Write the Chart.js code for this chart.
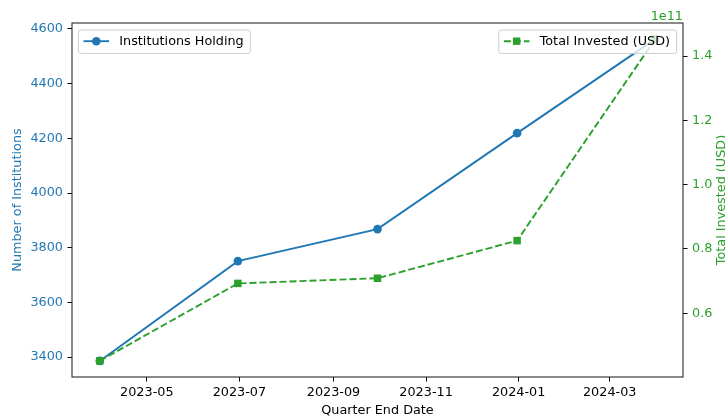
<!DOCTYPE html>
<html>
<head>
<meta charset="utf-8">
<script src="https://cdn.jsdelivr.net/npm/chart.js@4.4.1/dist/chart.umd.min.js"></script>
<style>
  html, body { margin: 0; padding: 0; background: #ffffff; }
  #wrap { width: 725px; height: 418px; }
</style>
</head>
<body>
<div id="wrap"><canvas id="chart" width="725" height="418"></canvas></div>
<script>
// Quarterly 13F snapshot
const quarterEnds = ['2023-03-31', '2023-06-30', '2023-09-30', '2023-12-31', '2024-03-31'];
const institutionsHolding = [3386, 3751, 3868, 4219, 4563];
const totalInvestedUSD = [4.52e10, 6.93e10, 7.09e10, 8.26e10, 1.4526e11];

// Axis ticks
const monthTicks = ['2023-05', '2023-07', '2023-09', '2023-11', '2024-01', '2024-03'];
const institutionTicks = [3400, 3600, 3800, 4000, 4200, 4400, 4600];
const investedTicks = [0.6, 0.8, 1.0, 1.2, 1.4];   // in units of investedScale
const investedScale = 1e11;
const investedScaleLabel = '1e11';

const BLUE = '#1f77b4';
const GREEN = '#2ca02c';
const FONT = 'DejaVu Sans';
const FS = 12.8;

const toMs = s => Date.parse(s + 'T00:00:00Z');
const xs = quarterEnds.map(toMs);

// 5% padding on both sides of the data range
function padRange(vals) {
  const lo = Math.min(...vals), hi = Math.max(...vals);
  const m = (hi - lo) * 0.05;
  return { min: lo - m, max: hi + m };
}
const xRange = padRange(xs);
const leftRange = padRange(institutionsHolding);
const rightRange = padRange(totalInvestedUSD);

function fixWidth(w) { return s => { s.width = w; s.paddingTop = 0; s.paddingBottom = 0; }; }

function drawLegendBox(ctx, left, top, label, color, dashed, style) {
  ctx.save();
  ctx.font = FS + 'px "' + FONT + '"';
  const pad = 5.1, handle = 25.6, gap = 10.2;
  const tw = ctx.measureText(label).width;
  const w = pad + handle + gap + tw + pad + 1.5;
  const h = 23.4;
  if (left === null) left = 676.6 - w;
  ctx.beginPath();
  ctx.roundRect(left, top, w, h, 2.5);
  ctx.fillStyle = 'rgba(255,255,255,0.8)';
  ctx.fill();
  ctx.strokeStyle = '#cccccc';
  ctx.lineWidth = 1;
  ctx.stroke();
  const cy = top + 11.2;
  const hx0 = left + pad, hx1 = hx0 + handle;
  ctx.strokeStyle = color;
  ctx.lineWidth = 1.9;
  ctx.setLineDash(dashed ? [7, 3] : []);
  ctx.beginPath();
  ctx.moveTo(hx0, cy);
  ctx.lineTo(hx1, cy);
  ctx.stroke();
  ctx.setLineDash([]);
  ctx.fillStyle = color;
  const mx = (hx0 + hx1) / 2;
  if (style === 'circle') {
    ctx.beginPath();
    ctx.arc(mx, cy, 4.3, 0, Math.PI * 2);
    ctx.fill();
  } else {
    ctx.fillRect(mx - 3.7, cy - 3.7, 7.4, 7.4);
  }
  ctx.fillStyle = '#000000';
  ctx.textBaseline = 'middle';
  ctx.textAlign = 'left';
  ctx.fillText(label, hx1 + gap, cy + 0.6);
  ctx.restore();
}

const decorations = {
  id: 'decorations',
  afterDatasetsDraw(chart) {
    const ctx = chart.ctx;
    const a = chart.chartArea;
    ctx.save();
    // frame
    ctx.strokeStyle = '#2a2a2a';
    ctx.lineWidth = 1.1;
    ctx.strokeRect(a.left, a.top, a.right - a.left, a.bottom - a.top);
    ctx.restore();

    const ds = chart.data.datasets;
    drawLegendBox(ctx, 78.4, 30, ds[0].label, BLUE, false, 'circle');
    drawLegendBox(ctx, null, 30, ds[1].label, GREEN, true, 'rect');

    ctx.save();
    ctx.font = FS + 'px "' + FONT + '"';
    ctx.fillStyle = GREEN;
    // exponent of the right axis
    ctx.textAlign = 'right';
    ctx.textBaseline = 'alphabetic';
    ctx.fillText(investedScaleLabel, a.right, 19.5);
    // right axis title, reading bottom to top
    ctx.translate(725.3, (a.top + a.bottom) / 2);
    ctx.rotate(-Math.PI / 2);
    ctx.textAlign = 'center';
    ctx.fillText('Total Invested (USD)', 0, 0);
    ctx.restore();
  }
};

Chart.defaults.font.family = FONT;
Chart.defaults.font.size = FS;
Chart.defaults.color = '#000000';

new Chart(document.getElementById('chart'), {
  type: 'line',
  data: {
    datasets: [
      {
        label: 'Institutions Holding',
        data: xs.map((x, i) => ({ x, y: institutionsHolding[i] })),
        yAxisID: 'yLeft',
        borderColor: BLUE,
        backgroundColor: BLUE,
        borderWidth: 1.9,
        pointStyle: 'circle',
        pointRadius: 4.3,
        pointBorderWidth: 0,
        pointBackgroundColor: BLUE,
        tension: 0,
        order: 1
      },
      {
        label: 'Total Invested (USD)',
        data: xs.map((x, i) => ({ x, y: totalInvestedUSD[i] })),
        yAxisID: 'yRight',
        borderColor: GREEN,
        backgroundColor: GREEN,
        borderWidth: 1.9,
        borderDash: [7, 3],
        pointStyle: 'rect',
        pointRadius: 5.3,
        pointBorderWidth: 0,
        pointBackgroundColor: GREEN,
        tension: 0,
        order: 0
      }
    ]
  },
  options: {
    responsive: false,
    animation: false,
    devicePixelRatio: 1,
    layout: { padding: { top: 23, left: 0, right: 0, bottom: 0 } },
    plugins: { legend: { display: false }, tooltip: { enabled: false } },
    scales: {
      x: {
        type: 'linear',
        position: 'bottom',
        min: xRange.min,
        max: xRange.max,
        afterBuildTicks: s => { s.ticks = monthTicks.map(m => ({ value: toMs(m + '-01') })); },
        afterFit: s => { s.height = 41; s.paddingLeft = 0; s.paddingRight = 0; },
        ticks: {
          autoSkip: false, maxRotation: 0, minRotation: 0, padding: 3.8,
          color: '#000000',
          callback: (v, i) => monthTicks[i]
        },
        grid: { drawOnChartArea: false, tickLength: 4.5, tickColor: '#000000', tickWidth: 1 },
        border: { display: false },
        title: { display: true, text: 'Quarter End Date', color: '#000000', padding: { top: 0, bottom: 0 } }
      },
      yLeft: {
        type: 'linear',
        position: 'left',
        min: leftRange.min,
        max: leftRange.max,
        afterBuildTicks: s => { s.ticks = institutionTicks.map(v => ({ value: v })); },
        afterFit: fixWidth(72),
        ticks: { color: BLUE, padding: 4.5, callback: v => String(v) },
        grid: { drawOnChartArea: false, tickLength: 4.5, tickColor: '#000000', tickWidth: 1 },
        border: { display: false },
        title: { display: true, text: 'Number of Institutions', color: BLUE, padding: { top: 9.6, bottom: 0 } }
      },
      yRight: {
        type: 'linear',
        position: 'right',
        min: rightRange.min,
        max: rightRange.max,
        afterBuildTicks: s => { s.ticks = investedTicks.map(v => ({ value: v * investedScale })); },
        afterFit: fixWidth(42),
        ticks: { color: GREEN, padding: 4.5, callback: (v, i) => investedTicks[i].toFixed(1) },
        grid: { drawOnChartArea: false, tickLength: 4.5, tickColor: '#000000', tickWidth: 1 },
        border: { display: false }
      }
    }
  },
  plugins: [decorations]
});
</script>
</body>
</html>
